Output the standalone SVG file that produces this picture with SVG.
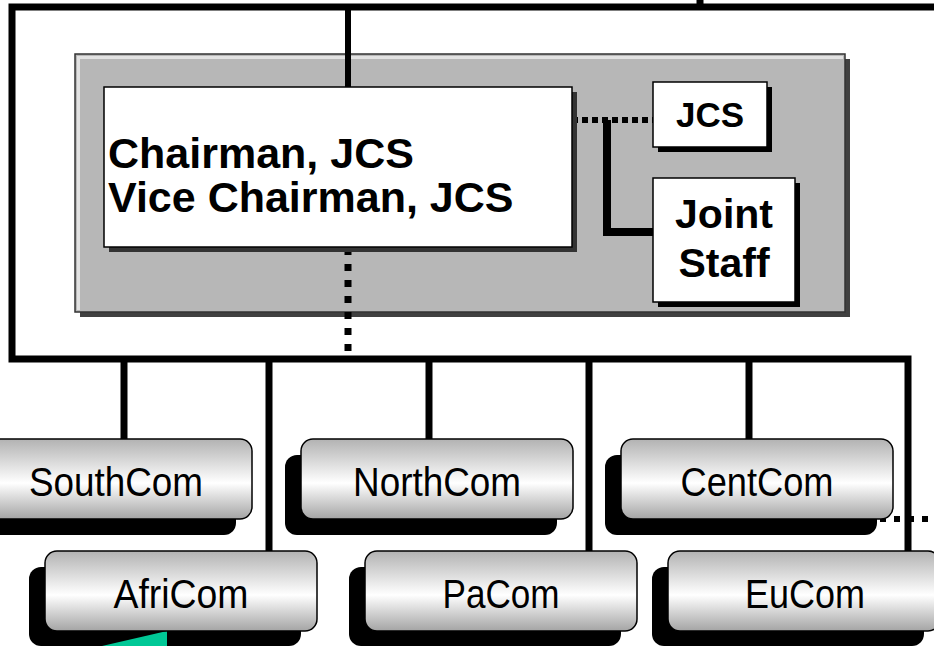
<svg xmlns="http://www.w3.org/2000/svg" width="934" height="646" viewBox="0 0 934 646">
<style>
  .line { fill: none; stroke: #000; stroke-width: 7; stroke-linecap: butt; stroke-linejoin: miter; }
  .dots { fill: none; stroke: #000; stroke-width: 7; stroke-dasharray: 7 9; }
  .box { fill: #fff; stroke: #000; stroke-width: 1.5; }
  .shadow { fill: #000; }
  .cmd { fill: url(#cyl); stroke: #000; stroke-width: 1.5; }
  .bold { font-family: "Liberation Sans", Arial, sans-serif; font-weight: bold; fill: #000; }
  .reg { font-family: "Liberation Sans", Arial, sans-serif; font-size: 40px; fill: #000; text-anchor: middle; }
</style>
<defs>
  <linearGradient id="cyl" x1="0" y1="0" x2="0" y2="1">
    <stop offset="0" stop-color="#b2b2b2"/>
    <stop offset="0.55" stop-color="#ffffff"/>
    <stop offset="1" stop-color="#a4a4a4"/>
  </linearGradient>
</defs>
<rect width="934" height="646" fill="#fff"/>

<g id="jcs-panel">
  <rect x="80" y="59" width="770" height="258" fill="#404040"/>
  <rect x="75" y="54" width="770" height="258" fill="#b7b7b7" stroke="#333" stroke-width="1.5"/>
  <polyline points="78.5,310 78.5,57.5 843,57.5" fill="none" stroke="#e2e2e2" stroke-width="3"/>
</g>

<g id="connectors">
  <path class="line" d="M934 7 H12 V359 H908 V551"/>
  <line class="line" x1="700" y1="0" x2="700" y2="7"/>
  <line class="line" x1="348" y1="7" x2="348" y2="87" style="stroke-width:6"/>
  <line class="dots" x1="348" y1="248" x2="348" y2="355"/>
  <line class="line" x1="124" y1="359" x2="124" y2="439"/>
  <line class="line" x1="269" y1="359" x2="269" y2="551"/>
  <line class="line" x1="429" y1="359" x2="429" y2="439"/>
  <line class="line" x1="589" y1="359" x2="589" y2="551"/>
  <line class="line" x1="749" y1="359" x2="749" y2="439"/>
  <line x1="572" y1="120" x2="653" y2="120" stroke="#000" stroke-width="6" stroke-dasharray="6 4"/>
  <path class="line" d="M607 120 V232 H653" style="stroke-width:8"/>
  <line x1="880" y1="519" x2="934" y2="519" stroke="#000" stroke-width="6" stroke-dasharray="6 8"/>
</g>

<g id="chairman">
  <rect x="109" y="92" width="468" height="160" fill="#333"/>
  <rect class="box" x="104" y="87" width="468" height="160"/>
  <text class="bold" x="108" y="168" font-size="43">Chairman, JCS</text>
  <text class="bold" x="108" y="212" font-size="43">Vice Chairman, JCS</text>
</g>

<g id="jcs">
  <rect class="shadow" x="658" y="87" width="114" height="65"/>
  <rect class="box" x="653" y="82" width="114" height="65"/>
  <text class="bold" x="710" y="127" font-size="35" text-anchor="middle">JCS</text>
</g>

<g id="joint-staff">
  <rect class="shadow" x="658" y="183" width="142" height="124"/>
  <rect class="box" x="653" y="178" width="142" height="124"/>
  <text class="bold" x="724" y="228" font-size="41" text-anchor="middle">Joint</text>
  <text class="bold" x="724" y="277" font-size="41" text-anchor="middle">Staff</text>
</g>

<g id="southcom">
  <rect class="shadow" x="-36" y="455" width="272" height="80" rx="12"/>
  <rect class="cmd" x="-20" y="439" width="272" height="80" rx="12"/>
  <text class="reg" x="116" y="496" textLength="174" lengthAdjust="spacingAndGlyphs">SouthCom</text>
</g>

<g id="northcom">
  <rect class="shadow" x="285" y="455" width="272" height="80" rx="12"/>
  <rect class="cmd" x="301" y="439" width="272" height="80" rx="12"/>
  <text class="reg" x="437" y="496" textLength="168" lengthAdjust="spacingAndGlyphs">NorthCom</text>
</g>

<g id="centcom">
  <rect class="shadow" x="605" y="455" width="272" height="80" rx="12"/>
  <rect class="cmd" x="621" y="439" width="272" height="80" rx="12"/>
  <text class="reg" x="757" y="496" textLength="153" lengthAdjust="spacingAndGlyphs">CentCom</text>
</g>

<g id="africom">
  <rect class="shadow" x="29" y="567" width="272" height="79" rx="12"/>
  <polygon points="102,646 167,631 167,646" fill="#00c896"/>
  <rect class="cmd" x="45" y="551" width="272" height="80" rx="12"/>
  <text class="reg" x="181" y="608" textLength="135" lengthAdjust="spacingAndGlyphs">AfriCom</text>
</g>

<g id="pacom">
  <rect class="shadow" x="349" y="567" width="272" height="79" rx="12"/>
  <rect class="cmd" x="365" y="551" width="272" height="80" rx="12"/>
  <text class="reg" x="501" y="608" textLength="117" lengthAdjust="spacingAndGlyphs">PaCom</text>
</g>

<g id="eucom">
  <rect class="shadow" x="652" y="567" width="272" height="79" rx="12"/>
  <rect class="cmd" x="668" y="551" width="272" height="80" rx="12"/>
  <text class="reg" x="805" y="608" textLength="120" lengthAdjust="spacingAndGlyphs">EuCom</text>
</g>
</svg>
